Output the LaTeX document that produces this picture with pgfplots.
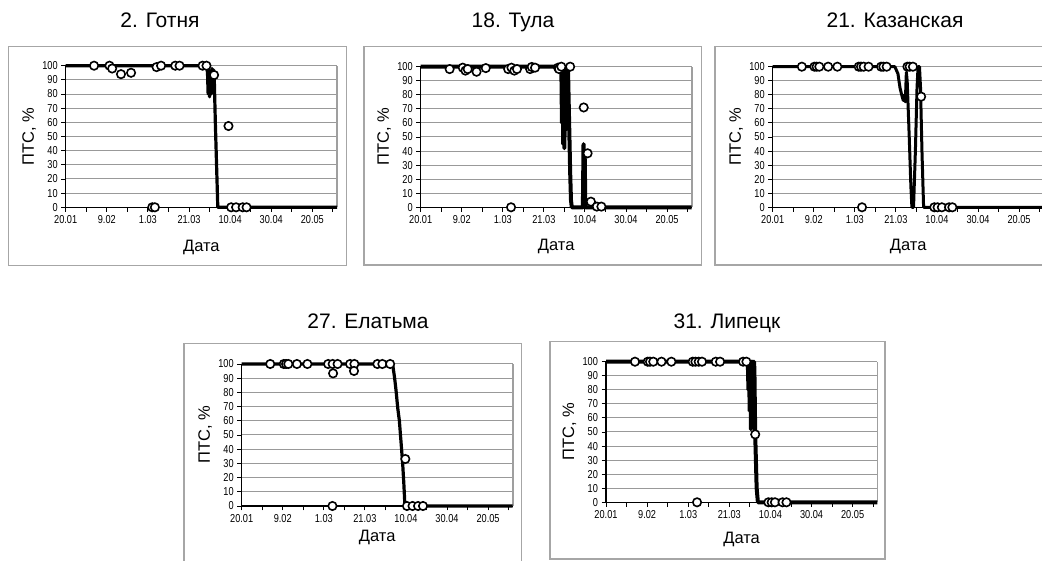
\documentclass[border=0pt]{standalone}
\usepackage{pgfplots}
\pgfplotsset{compat=1.18}
\usepackage{fontspec}
\setmainfont{Liberation Sans}
\newfontfamily\narrowfont[FakeStretch=0.8]{Liberation Sans}

\pgfplotsset{
  panel/.style={
    anchor=south west, scale only axis,
    xmin=0, xmax=132, ymin=0, ymax=100,
    axis x line=bottom, axis y line=left,
    axis line style={black, line width=1.3pt, -},
    xtick={0,20,...,120},
    xticklabels={20.01,9.02,1.03,21.03,10.04,30.04,20.05},
    minor xtick={10,30,...,130},
    ytick={0,10,...,100},
    tick align=outside,
    major tick length=4.5pt, minor tick length=4.5pt,
    tick style={black, line width=0.9pt},
    ymajorgrids, major grid style={gray!80, line width=1pt},
    tick label style={font=\narrowfont\fontsize{11.5}{11.5}\selectfont},
    /pgf/number format/assume math mode=true,
    clip=false,
    ylabel={ПТС, \%}, xlabel={Дата},
    label style={font=\fontsize{16.5}{16.5}\selectfont},
    ylabel style={at={(axis description cs:-0.135,0.5)}, anchor=center},
  },
  curve/.style={black, line width=#1, line join=round},
  obs/.style={only marks, mark=*, mark size=4.2pt, mark options={fill=white, draw=black, line width=1.6pt}},
}

\begin{document}
\begin{tikzpicture}
% frames
\draw[gray!70, line width=1.2pt] (8.3pt,295.3pt) rectangle (346.7pt,514.3pt);
\draw[gray!70, line width=1.2pt] (364pt,296pt) rectangle (701.7pt,514.3pt);
\draw[gray!70, line width=1.2pt] (715pt,296pt) rectangle (1080pt,514.3pt);
\draw[gray!70, line width=1.2pt] (184pt,-20pt) rectangle (521.7pt,217.7pt);
\draw[gray!70, line width=1.2pt] (550pt,2pt) rectangle (885pt,219.3pt);
% titles
\node[font=\fontsize{21}{21}\selectfont, anchor=base] at (160pt,533pt) {2. Готня};
\node[font=\fontsize{21}{21}\selectfont, anchor=base] at (513pt,533pt) {18. Тула};
\node[font=\fontsize{21}{21}\selectfont, anchor=base] at (895pt,533pt) {21. Казанская};
\node[font=\fontsize{21}{21}\selectfont, anchor=base] at (368pt,232.5pt) {27. Елатьма};
\node[font=\fontsize{21}{21}\selectfont, anchor=base] at (727pt,232.5pt) {31. Липецк};

% ---------- Panel 1: Gotnya
\begin{axis}[panel, at={(65.7pt,353.7pt)}, width=271.3pt, height=141.6pt,
  xlabel style={at={(axis description cs:0.5,-0.2825)}, anchor=center}]
\draw[gray!75, line width=1.6pt] (axis cs:132,0) -- (axis cs:132,100);
\addplot[curve=3.2pt] coordinates {(0,100) (68.5,100) (69,95) (69.3,80) (69.7,97) (70,78) (70.4,96) (70.8,80) (71.2,98) (71.6,82) (72,97) (72.3,90) (72.8,60) (73.3,35) (74,0) (132,0)};
\addplot[obs] coordinates {(13.8,100) (21.3,100) (22.6,98) (26.9,94) (31.8,95) (42.1,0) (43.4,0) (44.2,99) (46.4,100) (53.3,100) (55.4,100) (66.6,100) (68.5,100) (72.2,93.4) (79.2,57.4) (80.5,0) (82.9,0) (86.1,0) (88,0)};
\end{axis}

% ---------- Panel 2: Tula
\begin{axis}[panel, at={(420.7pt,353.7pt)}, width=271pt, height=140.6pt,
  xlabel style={at={(axis description cs:0.5,-0.28)}, anchor=center}]
\draw[gray!75, line width=1.6pt] (axis cs:132,0) -- (axis cs:132,100);
\addplot[curve=4pt] coordinates {(0,100) (68.5,100) (68.8,60) (69.1,100) (69.4,45) (69.7,100) (70,42) (70.3,100) (70.6,55) (70.9,100) (71.2,70) (71.5,100) (71.8,95) (72.3,60) (72.8,25) (73.2,5) (73.6,0) (79,0) (79.3,45) (79.6,0) (79.9,35) (80.2,0) (132,0)};
\addplot[obs] coordinates {(14.1,98.3) (20.5,99.3) (21.8,97.2) (22.9,98.3) (27.2,96.4) (31.7,99) (42.6,98.3) (44.2,99.3) (45.6,97.2) (46.9,98.3) (44,0) (53.3,98.3) (54.1,99.8) (55.7,99.3) (66.9,99.3) (67.4,98.3) (68.5,100) (72.8,100) (79.4,71) (81.3,38.4) (82.9,4) (85.8,0.5) (88,0.5)};
\end{axis}

% ---------- Panel 3: Kazanskaya
\begin{axis}[panel, at={(772.7pt,353.7pt)}, width=271pt, height=140.6pt,
  xlabel style={at={(axis description cs:0.5,-0.28)}, anchor=center}]
\draw[gray!75, line width=1.6pt] (axis cs:132,0) -- (axis cs:132,100);
\addplot[curve=3pt] coordinates {(0,100) (59.5,100) (61,95) (62,85) (63,79) (63.6,76) (64.2,80) (64.6,75) (65.1,96) (65.5,90) (66.5,50) (67.3,15) (67.8,0) (68.6,0) (69.5,40) (70.3,85) (70.8,100) (71.5,100) (72,85) (72.7,40) (73.5,0) (132,0)};
\addplot[obs] coordinates {(14.2,100) (20.3,100) (21.4,100) (22.7,100) (27,100) (31.5,100) (41.9,100) (43,100) (44.3,100) (46.7,100) (52.8,100) (53.9,100) (55.5,100) (43.5,0) (65.6,100) (66.7,100) (68.3,100) (72.3,78.7) (78.7,0) (80.3,0) (82.4,0) (85.9,0) (87.5,0)};
\end{axis}

% ---------- Panel 4: Elatma
\begin{axis}[panel, at={(241.7pt,55pt)}, width=271pt, height=142pt,
  xlabel style={at={(axis description cs:0.5,-0.225)}, anchor=center}]
\draw[gray!75, line width=1.6pt] (axis cs:132,0) -- (axis cs:132,100);
\addplot[curve=3.2pt] coordinates {(0,100) (73.5,100) (74.5,90) (75.2,81) (76,69) (76.8,60) (77.6,45) (78.4,30) (79,15) (79.5,0) (132,0)};
\addplot[obs] coordinates {(13.9,100) (20.5,100) (21.6,100) (22.7,100) (26.9,100) (32,100) (42.1,100) (44.2,0) (44.3,100) (44.5,93.4) (46.7,100) (52.8,100) (54.9,100) (54.7,95.1) (66.1,100) (68.5,100) (72.3,100) (79.7,33.1) (80.5,0) (83.2,0) (85.9,0) (88.3,0)};
\end{axis}

% ---------- Panel 5: Lipetsk
\begin{axis}[panel, at={(606pt,58.7pt)}, width=271.3pt, height=140.6pt,
  xlabel style={at={(axis description cs:0.5,-0.263)}, anchor=center}]
\draw[gray!75, line width=1.6pt] (axis cs:132,0) -- (axis cs:132,100);
\addplot[curve=4pt] coordinates {(0,100) (69,100) (69.3,80) (69.6,100) (69.9,65) (70.2,100) (70.5,52) (70.8,100) (71.1,55) (71.4,100) (71.7,70) (72,100) (72.2,95) (72.6,48) (73.3,10) (73.9,0) (132,0)};
\addplot[obs] coordinates {(14.1,100) (20.3,100) (21.4,100) (23,100) (27,100) (31.8,100) (42.2,100) (43.5,100) (45.1,100) (46.7,100) (44.3,0) (53.4,100) (55.5,100) (66.7,100) (68.3,100) (72.6,48.3) (79,0) (80.6,0) (82.2,0) (85.9,0) (87.8,0)};
\end{axis}

\pgfresetboundingbox
\path[use as bounding box] (0pt,0pt) rectangle (1042pt,561pt);
\end{tikzpicture}
\end{document}
